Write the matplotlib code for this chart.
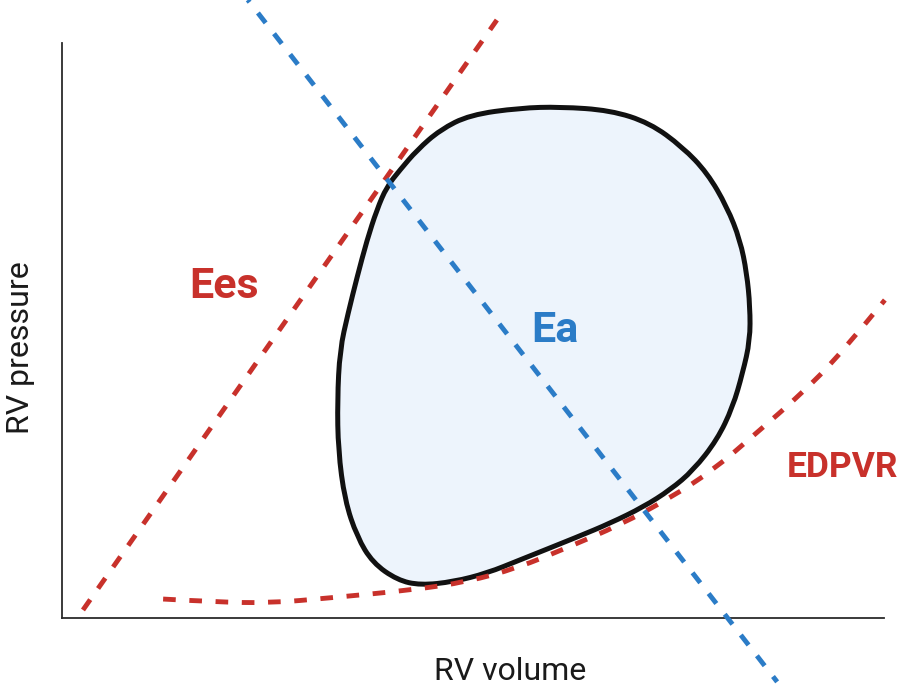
import numpy as np
import matplotlib
matplotlib.use("Agg")
import matplotlib.pyplot as plt
from matplotlib.path import Path
from matplotlib.patches import PathPatch

plt.rcParams['font.family'] = ['Roboto', 'DejaVu Sans']

# schematic PV loop, axes run 0..100 in both directions
loop_vol = [60.6, 66.7, 71.5, 75.5, 78.5, 80.9, 82.5, 83.3, 83.7, 83.7, 82.8,
            81.6, 79.7, 76.8, 74.0, 70.7, 66.7, 62.7, 55.7, 51.7, 47.6, 43.6,
            40.8, 37.8, 35.9, 34.4, 33.6, 33.5, 33.8, 34.8, 35.9, 37.1, 38.3,
            39.5, 41.1, 43.2, 46.0, 49.6, 55.7]
loop_pres = [88.9, 88.3, 86.1, 81.9, 77.4, 71.5, 65.7, 60.0, 54.1, 48.3, 42.6,
             36.7, 31.0, 25.7, 22.3, 19.3, 16.5, 14.1, 10.1, 7.8, 6.3, 5.7,
             6.6, 9.6, 14.1, 20.5, 29.2, 37.9, 46.6, 53.0, 59.3, 65.7, 71.0,
             75.0, 77.9, 81.4, 84.9, 87.5, 88.7]

edpvr_vol = [12.3, 18.6, 25.3, 32.6, 42.7, 49.3, 55.4, 61.4, 67.9, 74.0,
             79.2, 84.5, 89.8, 94.6, 100.1]
edpvr_pres = [3.3, 2.8, 2.6, 3.5, 4.9, 6.3, 8.7, 12.2, 16.2, 20.9,
              25.7, 32.2, 38.8, 45.7, 55.3]

ees_vol = [2.55, 52.9]
ees_pres = [1.4, 104.0]

ea_vol = [22.6, 87.0]
ea_pres = [107.5, -11.1]

RED = "#C8312B"
BLUE = "#2B7CC7"
FILL = "#EDF4FC"


def smooth_path(xs, ys, closed=False):
    # quadratic b-spline through the midpoints, drawn by matplotlib's own curves
    pts = np.column_stack([xs, ys])
    if closed:
        mids = (pts + np.roll(pts, -1, axis=0)) / 2
        verts = [mids[-1]]
        codes = [Path.MOVETO]
        for i in range(len(pts)):
            verts += [pts[i], mids[i]]
            codes += [Path.CURVE3, Path.CURVE3]
        verts.append(mids[-1])
        codes.append(Path.CLOSEPOLY)
    else:
        verts = [pts[0]]
        codes = [Path.MOVETO]
        n = len(pts)
        for i in range(1, n - 1):
            end = pts[i + 1] if i == n - 2 else (pts[i] + pts[i + 1]) / 2
            verts += [pts[i], end]
            codes += [Path.CURVE3, Path.CURVE3]
    return Path(verts, codes)


fig = plt.figure(figsize=(9.04, 6.87), dpi=100)
ax = fig.add_axes([0.0686, 0.1004, 0.9093, 0.837])
ax.set_xlim(0, 100)
ax.set_ylim(0, 100)

for s in ["top", "right"]:
    ax.spines[s].set_visible(False)
for s in ["left", "bottom"]:
    ax.spines[s].set_color("#2b2b2b")
    ax.spines[s].set_linewidth(1.3)
ax.set_xticks([])
ax.set_yticks([])

dash = (0, (2.6, 2.8))

ax.add_patch(PathPatch(smooth_path(loop_vol, loop_pres, closed=True),
                       facecolor=FILL, edgecolor="#111111", lw=3.6,
                       zorder=2))
ax.add_patch(PathPatch(smooth_path(edpvr_vol, edpvr_pres),
                       facecolor="none", edgecolor=RED, lw=3.5,
                       linestyle=dash, capstyle="butt", clip_on=False,
                       zorder=3))
ax.plot(ees_vol, ees_pres, color=RED, lw=3.5, linestyle=dash,
        clip_on=False, zorder=3)
ax.plot(ea_vol, ea_pres, color=BLUE, lw=3.5, linestyle=(2.0, (2.6, 2.8)),
        clip_on=False, zorder=4)

ax.text(19.7, 55.7, "Ees", color=RED, fontsize=31, fontweight="bold",
        ha="center", va="baseline")
ax.text(59.9, 48.0, "Ea", color=BLUE, fontsize=31, fontweight="bold",
        ha="center", va="baseline")
ax.text(94.9, 24.5, "EDPVR", color=RED, fontsize=25.5, fontweight="bold",
        ha="center", va="baseline", clip_on=False)

ax.text(54.5, -10.8, "RV volume", color="#1a1a1a", fontsize=23,
        ha="center", va="baseline", clip_on=False)
ax.text(-4.0, 47.1, "RV pressure", color="#1a1a1a", fontsize=23,
        ha="center", va="baseline", rotation=90, rotation_mode="anchor",
        clip_on=False)

fig.savefig("out.png", dpi=100)
